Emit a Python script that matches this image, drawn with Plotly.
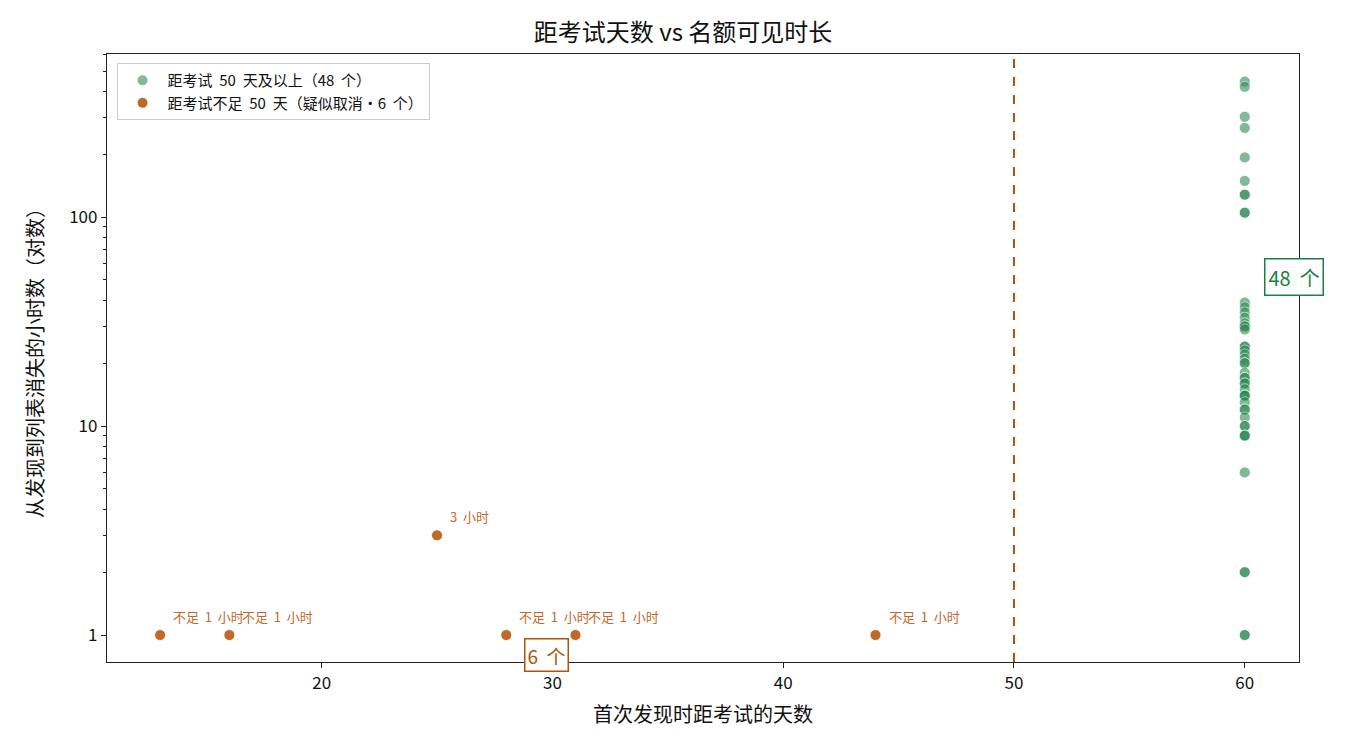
import numpy as np
import plotly.graph_objects as go

# 距考试 50 天及以上
far_days = [60] * 48
far_hours = [445, 420, 302, 267, 193, 149, 128, 128, 105, 105,
             39, 37, 35, 33, 31, 30, 30, 29, 24, 24, 23, 22, 21,
             20, 20, 18, 17, 17, 16, 16, 15, 14, 14, 14, 13, 12, 12, 11,
             10, 10, 9, 9, 9, 6, 2, 2, 1, 1]

# 距考试不足 50 天
near_days = [13, 16, 25, 28, 31, 44]
near_hours = [1, 1, 3, 1, 1, 1]
near_labels = ["不足 1 小时", "不足 1 小时", "3 小时", "不足 1 小时", "不足 1 小时", "不足 1 小时"]

threshold = 50
green = "#2e8b57"
orange = "#c0692b"
font_cn = "Noto Sans CJK SC"

def wide(s):
    # the reference font has wider word gaps
    return s.replace(" ", "\u00a0\u00a0")

fig = go.Figure()

fig.add_trace(go.Scatter(
    x=far_days, y=far_hours, mode="markers",
    name=wide("距考试 50 天及以上（48 个）"),
    marker=dict(size=11, color=green, opacity=0.6, line=dict(color="white", width=0.8)),
))
fig.add_trace(go.Scatter(
    x=near_days, y=near_hours, mode="markers",
    name=wide("距考试不足 50 天（疑似取消・6 个）"),
    marker=dict(size=11, color=orange, opacity=1, line=dict(color="white", width=0.8)),
))

fig.add_shape(type="line", x0=threshold, x1=threshold, y0=0, y1=1,
              xref="x", yref="paper",
              line=dict(color="#b0520f", width=2, dash="dash"))

for d, h, t in zip(near_days, near_hours, near_labels):
    fig.add_annotation(x=d, y=np.log10(h), text=wide(t), showarrow=False,
                       xanchor="left", yanchor="bottom", xshift=11, yshift=7,
                       font=dict(size=13, color=orange, family=font_cn))

fig.add_annotation(x=62.15, y=np.log10(51.6), text=wide("48 个"), showarrow=False,
                   font=dict(size=20, color="#1e7f45", family=font_cn),
                   bgcolor="white", bordercolor="#1e7f45", borderwidth=1.5, borderpad=3)
fig.add_annotation(x=29.76, y=np.log10(0.80), text=wide("6 个"), showarrow=False,
                   font=dict(size=19, color="#b0520f", family=font_cn),
                   bgcolor="white", bordercolor="#b0520f", borderwidth=1.5, borderpad=2)

axis_common = dict(showline=True, linecolor="#222", linewidth=1.3, mirror=True,
                   ticks="outside", ticklen=5, tickcolor="#222", showgrid=False,
                   zeroline=False, tickfont=dict(size=17, color="#111"))

fig.update_xaxes(range=[10.7, 62.35], tickvals=[20, 30, 40, 50, 60],
                 title=dict(text="首次发现时距考试的天数", font=dict(size=20), standoff=15),
                 **axis_common)
fig.update_yaxes(type="log", range=[np.log10(0.743), np.log10(603)],
                 tickvals=[1, 10, 100], ticktext=["1", "10", "100"],
                 minor=dict(ticks="outside", ticklen=3, tickcolor="#222",
                            tickvals=[v * m for m in [1, 10, 100] for v in range(2, 10)]),
                 title=dict(text="从发现到列表消失的小时数（对数）", font=dict(size=20), standoff=20),
                 **axis_common)

fig.update_layout(
    width=1350, height=750,
    margin=dict(l=99, r=59, t=46, b=96),
    plot_bgcolor="white", paper_bgcolor="white",
    font=dict(family=font_cn, color="#111"),
    title=dict(text="距考试天数 vs 名额可见时长", x=0.5, xanchor="center",
               y=0.967, yanchor="middle", font=dict(size=24)),
    legend=dict(x=0.008, y=0.985, xanchor="left", yanchor="top",
                bgcolor="white", bordercolor="#ccc", borderwidth=1,
                font=dict(size=15), itemsizing="constant", itemwidth=40),
    showlegend=True,
)

fig.write_html("out.html")
